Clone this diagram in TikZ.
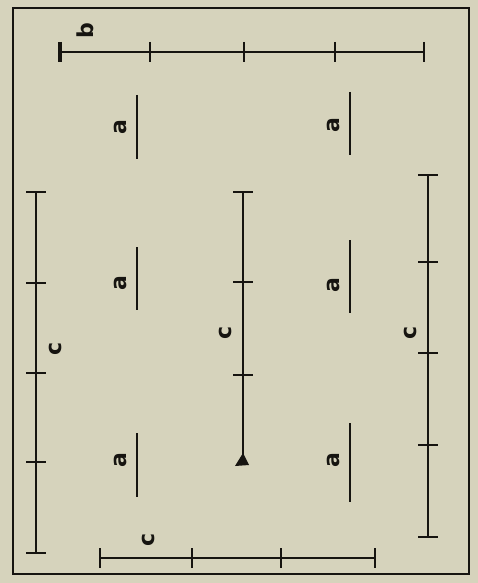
\documentclass[tikz,border=0pt]{standalone}
\usepackage{fontspec}
\setmainfont{DejaVu Sans}
\definecolor{paper}{RGB}{214,211,188}
\definecolor{ink}{RGB}{22,20,16}
\tikzset{dim/.style={ink,line width=2.8pt},
	lbl/.style={rotate=90,inner sep=0pt,text=ink,font=\fontsize{22}{22}\selectfont\bfseries}}

\begin{document}
\begin{tikzpicture}[x=1pt,y=-1pt]
\fill [paper] (0,0) rectangle (478,583);
\useasboundingbox (0,0) rectangle (478,583);
\draw [ink, line width=2.8pt] (13,8) rectangle (469,574);
% b, along the top
\coordinate (b0) at (60,52);
\coordinate (b1) at (424,52);
\draw [dim] (b0) -- (b1);
\foreach \x in {150,244,335,424}
	\draw [dim] (\x,42) -- (\x,62);
\draw [ink, line width=4.5pt] (60,42) -- (60,62);
\node [lbl] (lb) at (85,31) {b};
% c, left
\coordinate (cl0) at (36,192);
\coordinate (cl1) at (36,553);
\draw [dim] (cl0) -- (cl1);
\foreach \y in {192,283,373,462,553}
	\draw [dim] (26,\y) -- (46,\y);
\node [lbl] (lcl) at (55,349) {c};
% c, middle
\coordinate (cm0) at (243,192);
\coordinate (cm1) at (243,460);
\draw [dim] (cm0) -- (cm1);
\foreach \y in {192,282,375}
	\draw [dim] (233,\y) -- (253,\y);
\fill [ink] (235,466) -- (243,453) -- (249,465) -- cycle;
\node [lbl] (lcm) at (225,333) {c};
% c, right
\coordinate (cr0) at (428,175);
\coordinate (cr1) at (428,537);
\draw [dim] (cr0) -- (cr1);
\foreach \y in {175,262,353,445,537}
	\draw [dim] (418,\y) -- (438,\y);
\node [lbl] (lcr) at (410,333) {c};
% c, along the bottom
\coordinate (cb0) at (100,558);
\coordinate (cb1) at (375,558);
\draw [dim] (cb0) -- (cb1);
\foreach \x in {100,192,281,375}
	\draw [dim] (\x,548) -- (\x,568);
\node [lbl] (lcb) at (148,540) {c};
% a
\foreach \n/\x/\ya/\yb/\ly in {1/137/95/159/127, 2/350/92/155/125,
		3/137/247/310/283, 4/350/240/313/285, 5/137/433/497/460, 6/350/423/502/460} {
	\coordinate (a\n s) at (\x,\ya);
	\coordinate (a\n e) at (\x,\yb);
	\draw [dim] (a\n s) -- (a\n e);
	\node [lbl] (la\n) at (\x-17,\ly) {a};
}
\end{tikzpicture}
\end{document}
